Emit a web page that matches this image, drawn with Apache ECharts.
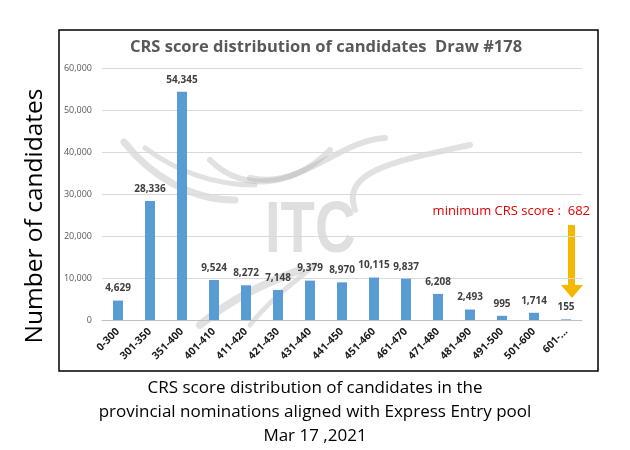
<!DOCTYPE html>
<html><head><meta charset="utf-8">
<script src="https://cdn.jsdelivr.net/npm/echarts@6/dist/echarts.min.js"></script>
<style>html,body{margin:0;padding:0;background:#fff}#c{width:630px;height:450px}</style>
</head><body><div id="c"></div>
<script>
const categories = ['0-300','301-350','351-400','401-410','411-420','421-430','431-440','441-450','451-460','461-470','471-480','481-490','491-500','501-600','601-...'];
const candidates = [4629,28336,54345,9524,8272,7148,9379,8970,10115,9837,6208,2493,995,1714,155];
const yTicks = [0,10000,20000,30000,40000,50000,60000];

const chart = echarts.init(document.getElementById('c'));
const fmt = v => v.toLocaleString('en-US');
const wm = 'rgba(170,170,170,0.35)';
function swoosh(pts, w) {
  return {type: 'bezierCurve', z: -1, shape: {x1: pts[0][0], y1: pts[0][1], cpx1: pts[1][0], cpy1: pts[1][1], cpx2: pts[2][0], cpy2: pts[2][1], x2: pts[3][0], y2: pts[3][1]},
    style: {stroke: wm, lineWidth: w, fill: 'none', lineCap: 'round'}};
}
chart.setOption({
  animation: false,
  backgroundColor: '#fff',
  title: {
    text: 'CRS score distribution of candidates  Draw #178',
    left: 321, top: 34, textAlign: 'center',
    textStyle: {fontFamily: 'Open Sans', fontSize: 16.5, fontWeight: 'bold', color: '#595959'}
  },
  grid: {left: 102, right: 48, top: 68, bottom: 130},
  xAxis: {
    type: 'category', data: categories,
    axisTick: {show: false},
    axisLine: {lineStyle: {color: '#bfbfbf'}},
    axisLabel: {rotate: 45, interval: 0, fontFamily: 'Open Sans', fontSize: 10.5, fontWeight: 'bold', color: '#1a1a1a', margin: 10}
  },
  yAxis: {
    type: 'value', min: yTicks[0], max: yTicks[yTicks.length-1], interval: 10000,
    axisLine: {show: false}, axisTick: {show: false},
    splitLine: {lineStyle: {color: '#d9d9d9'}},
    axisLabel: {fontFamily: 'Open Sans', fontSize: 9, color: '#595959', margin: 10, formatter: v => fmt(v)}
  },
  series: [{
    type: 'bar', data: candidates, barWidth: 10,
    itemStyle: {color: '#5b9bd5'},
    label: {show: true, position: 'top', distance: 7, fontFamily: 'Open Sans', fontSize: 10, fontWeight: 'bold', color: '#404040', formatter: p => fmt(p.value)}
  }],
  graphic: [
    swoosh([[124,142],[150,175],[190,200],[235,200]], 7),
    swoosh([[145,148],[175,170],[210,185],[255,185]], 5),
    swoosh([[210,160],[240,190],[290,190],[330,150]], 6),
    swoosh([[250,178],[300,190],[340,140],[385,138]], 6),
    swoosh([[355,210],[340,170],[400,160],[470,145]], 6),
    swoosh([[200,325],[230,300],[260,285],[300,270]], 8),
    swoosh([[250,325],[270,300],[290,285],[315,265]], 5),
    {type: 'text', z: -1, x: 265, y: 196, scaleX: 0.78, style: {text: 'ITC', font: 'bold 72px "Liberation Sans"', fill: 'rgba(175,175,175,0.4)'}},
    {type: 'rect', z: 10, shape: {x: 59, y: 30, width: 539, height: 341}, style: {fill: 'none', stroke: '#000', lineWidth: 1.5}},
    {type: 'text', style: {text: 'Number of candidates', font: '24.5px "Open Sans"', fill: '#000', textAlign: 'center', textVerticalAlign: 'middle'}, x: 35, y: 216, rotation: Math.PI/2},
    {type: 'text', style: {text: 'minimum CRS score :  682', font: '13px "Open Sans"', fill: '#e00000', textAlign: 'right', textVerticalAlign: 'middle'}, x: 590, y: 211},
    {type: 'rect', shape: {x: 568, y: 225, width: 7, height: 61}, style: {fill: '#f5b800'}},
    {type: 'polygon', shape: {points: [[561, 285], [583, 285], [572, 298]]}, style: {fill: '#f5b800'}},
    {type: 'text', style: {text: 'CRS score distribution of candidates in the\nprovincial nominations aligned with Express Entry pool\nMar 17 ,2021', font: '17px "Open Sans"', lineHeight: 24, fill: '#000', textAlign: 'center', textVerticalAlign: 'top'}, x: 315, y: 376}
  ]
});
</script></body></html>
